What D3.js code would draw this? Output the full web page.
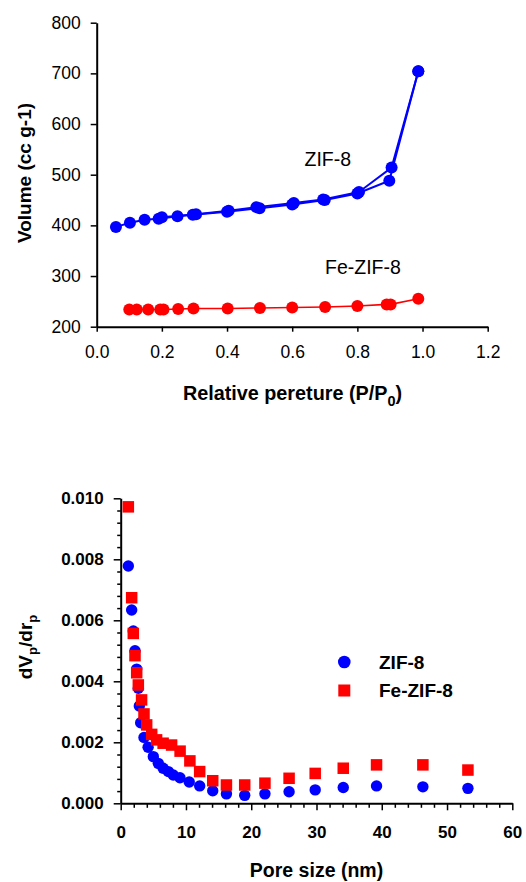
<!DOCTYPE html>
<html>
<head>
<meta charset="utf-8">
<script src="https://cdn.jsdelivr.net/npm/d3@7"></script>
<style>
  html, body { margin: 0; padding: 0; background: #fff; }
  svg { display: block; font-family: "Liberation Sans", Arial, sans-serif; }
</style>
</head>
<body>
<svg id="chart" width="526" height="882"></svg>
<script>
// ---------- Data: top panel (N2 isotherm) ----------
const isoSeries = ["ZIF-8", "Fe-ZIF-8"];
const zifAdsP = [0.059, 0.102, 0.147, 0.190, 0.248, 0.295, 0.400, 0.500, 0.600, 0.700, 0.800, 0.898, 0.987];
const zifAdsV = [397, 405, 411, 413, 418, 421, 427, 434, 441, 450, 463, 488, 704];
const zifDesP = [0.987, 0.905, 0.805, 0.695, 0.605, 0.490, 0.405, 0.305, 0.200];
const zifDesV = [704, 514, 466, 451, 444, 436, 429, 422, 416];
const feP = [0.100, 0.123, 0.158, 0.195, 0.205, 0.250, 0.297, 0.402, 0.501, 0.600, 0.701, 0.800, 0.890, 0.902, 0.987];
const feV = [234, 234, 234, 234, 234, 235, 236, 236, 237, 238, 239, 241, 244, 244, 255];
const topXTicks = [0.0, 0.2, 0.4, 0.6, 0.8, 1.0, 1.2];
const topYTicks = [200, 300, 400, 500, 600, 700, 800];

// ---------- Data: bottom panel (pore size distribution) ----------
const psdSeries = ["ZIF-8", "Fe-ZIF-8"];
const zifPore = [1.17, 1.68, 1.93, 2.19, 2.45, 2.70, 2.85, 3.06, 3.57, 4.2, 5.0, 5.76, 6.5, 7.3, 8.05, 9.08, 10.5, 12.1, 14.1, 16.2, 19.0, 22.1, 25.8, 29.8, 34.1, 39.2, 46.3, 53.2];
const zifDV = [0.00778, 0.00634, 0.00565, 0.00500, 0.00440, 0.00377, 0.00319, 0.00264, 0.00216, 0.00184, 0.00153, 0.00131, 0.00115, 0.00104, 0.00093, 0.00084, 0.00070, 0.00057, 0.00041, 0.00031, 0.00026, 0.00031, 0.00038, 0.00044, 0.00052, 0.00057, 0.00054, 0.00049];
const fePore = [1.17, 1.68, 1.93, 2.19, 2.45, 2.70, 3.2, 3.57, 3.98, 4.75, 5.5, 6.5, 7.8, 9.1, 10.6, 12.1, 14.1, 16.2, 19.0, 22.1, 25.8, 29.8, 34.1, 39.2, 46.3, 53.2];
const feDV = [0.00972, 0.00674, 0.00557, 0.00484, 0.00428, 0.00388, 0.00339, 0.00293, 0.00257, 0.00226, 0.00208, 0.00197, 0.00191, 0.00171, 0.00139, 0.00104, 0.00074, 0.00060, 0.00060, 0.00066, 0.00082, 0.00098, 0.00115, 0.00126, 0.00126, 0.00109];
const botXTicks = [0, 10, 20, 30, 40, 50, 60];
const botYTicks = [0.000, 0.002, 0.004, 0.006, 0.008, 0.010];

const BLUE = "#0000ff", RED = "#ff0000";
const svg = d3.select("#chart");
const zip = (a, b) => a.map((v, i) => [v, b[i]]);

// ================= TOP PANEL =================
const tx = d3.scaleLinear().domain([0, 1.2]).range([96.7, 487.7]);
const ty = d3.scaleLinear().domain([200, 800]).range([326.7, 22.7]);
const topG = svg.append("g");

const topXAxis = topG.append("g").attr("transform", `translate(0,${ty(200)})`)
  .call(d3.axisBottom(tx).tickValues(topXTicks).tickFormat(d3.format(".1f")).tickSizeInner(5).tickSizeOuter(0).tickPadding(14));
const topYAxis = topG.append("g").attr("transform", `translate(${tx(0)},0)`)
  .call(d3.axisLeft(ty).tickValues(topYTicks).tickSizeInner(6).tickSizeOuter(0).tickPadding(10));
[topXAxis, topYAxis].forEach(a => {
  a.select(".domain").attr("stroke", "#000").attr("stroke-width", 2);
  a.selectAll(".tick line").attr("stroke", "#000").attr("stroke-width", 1.5);
  a.selectAll(".tick text").attr("fill", "#000").style("font-size", "17.5px").style("font-family", "Liberation Sans, Arial, sans-serif");
});

const line = d3.line().x(d => tx(d[0])).y(d => ty(d[1]));
const zifAds = zip(zifAdsP, zifAdsV), zifDes = zip(zifDesP, zifDesV), fe = zip(feP, feV);
topG.append("path").datum(zifAds).attr("d", line).attr("fill", "none").attr("stroke", BLUE).attr("stroke-width", 2);
topG.append("path").datum(zifDes).attr("d", line).attr("fill", "none").attr("stroke", BLUE).attr("stroke-width", 2);
topG.append("path").datum(fe).attr("d", line).attr("fill", "none").attr("stroke", RED).attr("stroke-width", 1.6);
topG.append("g").selectAll("circle").data(zifAds.concat(zifDes)).join("circle")
  .attr("cx", d => tx(d[0])).attr("cy", d => ty(d[1])).attr("r", 6).attr("fill", BLUE);
topG.append("g").selectAll("circle").data(fe).join("circle")
  .attr("cx", d => tx(d[0])).attr("cy", d => ty(d[1])).attr("r", 6).attr("fill", RED);

topG.append("text").attr("x", 304.5).attr("y", 166).text(isoSeries[0])
  .style("font-size", "19.5px").attr("fill", "#000");
topG.append("text").attr("x", 325).attr("y", 274).text(isoSeries[1])
  .style("font-size", "19.5px").attr("fill", "#000");

// axis titles
const tt = topG.append("text").attr("x", 292.5).attr("y", 399.5).attr("text-anchor", "middle")
  .style("font-size", "19.8px").style("font-weight", "bold").attr("fill", "#000");
tt.append("tspan").text("Relative pereture (P/P");
tt.append("tspan").text("0").style("font-size", "14.5px").attr("dy", 6);
tt.append("tspan").text(")").attr("dy", -6);

topG.append("text").attr("transform", "translate(31,173) rotate(-90)").attr("text-anchor", "middle")
  .style("font-size", "19px").style("font-weight", "bold").attr("fill", "#000").text("Volume (cc g-1)");

// ================= BOTTOM PANEL =================
const bx = d3.scaleLinear().domain([0, 60]).range([120.7, 512.3]);
const by = d3.scaleLinear().domain([0, 0.010]).range([803.3, 498.3]);
const botG = svg.append("g");

// minor ticks
const bxMinor = d3.range(0, 61, 2).filter(v => v % 10 !== 0);
const byMinor = d3.range(0, 0.01001, 0.0004).filter(v => Math.abs(v / 0.002 - Math.round(v / 0.002)) > 1e-6);
botG.append("g").attr("transform", `translate(0,${by(0)})`)
  .call(d3.axisBottom(bx).tickValues(bxMinor).tickFormat("").tickSizeInner(4.5).tickSizeOuter(0))
  .call(g => { g.select(".domain").remove(); g.selectAll("line").attr("stroke", "#000").attr("stroke-width", 1.5); });
botG.append("g").attr("transform", `translate(${bx(0)},0)`)
  .call(d3.axisLeft(by).tickValues(byMinor).tickFormat("").tickSizeInner(3.5).tickSizeOuter(0))
  .call(g => { g.select(".domain").remove(); g.selectAll("line").attr("stroke", "#000").attr("stroke-width", 1.5); });

const botXAxis = botG.append("g").attr("transform", `translate(0,${by(0)})`)
  .call(d3.axisBottom(bx).tickValues(botXTicks).tickFormat(d3.format("d")).tickSizeInner(7).tickSizeOuter(0).tickPadding(16));
const botYAxis = botG.append("g").attr("transform", `translate(${bx(0)},0)`)
  .call(d3.axisLeft(by).tickValues(botYTicks).tickFormat(d3.format(".3f")).tickSizeInner(7).tickSizeOuter(0).tickPadding(10));
[botXAxis, botYAxis].forEach(a => {
  a.select(".domain").attr("stroke", "#000").attr("stroke-width", 2);
  a.selectAll(".tick line").attr("stroke", "#000").attr("stroke-width", 1.5);
  a.selectAll(".tick text").attr("fill", "#000").style("font-size", "17px").style("font-weight", "bold").style("font-family", "Liberation Sans, Arial, sans-serif");
});

const zifPsd = zip(zifPore, zifDV), fePsd = zip(fePore, feDV);
botG.append("g").selectAll("circle").data(zifPsd).join("circle")
  .attr("cx", d => bx(d[0])).attr("cy", d => by(d[1])).attr("r", 5.7).attr("fill", BLUE);
const sq = 11.5;
botG.append("g").selectAll("rect").data(fePsd).join("rect")
  .attr("x", d => bx(d[0]) - sq / 2).attr("y", d => by(d[1]) - sq / 2).attr("width", sq).attr("height", sq).attr("fill", RED);

// legend
botG.append("circle").attr("cx", 344.3).attr("cy", 662).attr("r", 6.3).attr("fill", BLUE);
botG.append("rect").attr("x", 344.3 - 6).attr("y", 690.5 - 6).attr("width", 12).attr("height", 12).attr("fill", RED);
botG.append("text").attr("x", 379).attr("y", 669).text(psdSeries[0])
  .style("font-size", "19px").style("font-weight", "bold").attr("fill", "#000");
botG.append("text").attr("x", 379).attr("y", 697).text(psdSeries[1])
  .style("font-size", "19px").style("font-weight", "bold").attr("fill", "#000");

// axis titles
botG.append("text").attr("x", 316.5).attr("y", 876.5).attr("text-anchor", "middle")
  .style("font-size", "19.5px").style("font-weight", "bold").attr("fill", "#000").text("Pore size (nm)");
const yt = botG.append("text").attr("transform", "translate(32,647) rotate(-90)").attr("text-anchor", "middle")
  .style("font-size", "19px").style("font-weight", "bold").attr("fill", "#000");
yt.append("tspan").text("dV");
yt.append("tspan").text("p").style("font-size", "13px").attr("dy", 5);
yt.append("tspan").text("/dr").attr("dy", -5);
yt.append("tspan").text("p").style("font-size", "13px").attr("dy", 5);
</script>
</body>
</html>
